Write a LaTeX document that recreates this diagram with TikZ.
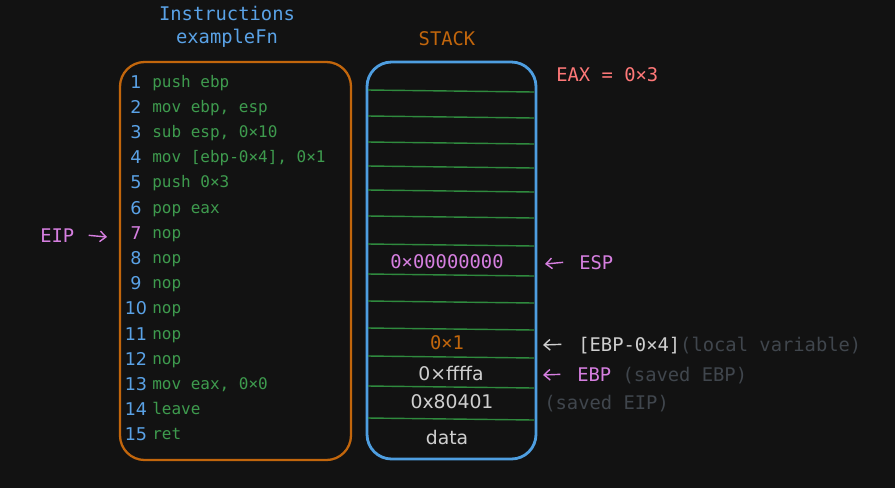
\documentclass[tikz,border=0pt]{standalone}
\usepackage{fontspec}
\setmainfont{DejaVu Sans}
\setsansfont{DejaVu Sans}
\setmonofont{DejaVu Sans Mono}
\usetikzlibrary{arrows.meta}
\definecolor{bgcol}{HTML}{121212}
\definecolor{codebox}{HTML}{C2660C}
\definecolor{stackbox}{HTML}{4E9EE0}
\definecolor{codegreen}{HTML}{3E9B4E}
\definecolor{linegreen}{HTML}{2F8A3E}
\definecolor{numblue}{HTML}{5AA2E6}
\definecolor{ptrpink}{HTML}{D67FE0}
\definecolor{eaxred}{HTML}{FF7878}
\definecolor{valgray}{HTML}{CFCFCF}
\definecolor{dimgray}{HTML}{40464D}
\tikzset{
  bigtxt/.style={font=\ttfamily\fontsize{10.7}{13}\selectfont, inner sep=0pt},
  codetxt/.style={font=\ttfamily\fontsize{9.1}{11}\selectfont, inner sep=0pt, text=codegreen, anchor=base west},
  numtxt/.style={font=\sffamily\fontsize{10}{12}\selectfont, inner sep=0pt, anchor=base},
  handtxt/.style={font=\sffamily\fontsize{10.7}{12}\selectfont, inner sep=0pt, text=valgray, anchor=base},
  ptr/.style={-{Straight Barb[length=3.4pt,width=6pt]}, line width=0.8pt},
  stackline/.style={linegreen, line width=0.8pt}
}
\begin{document}
\begin{tikzpicture}[x=0.02cm, y=-0.02cm]
\fill[bgcol] (0,0) rectangle (895,488);
% titles
\node[bigtxt, text=numblue, align=center] (title) at (227,27) {Instructions\\exampleFn};
\node[bigtxt, text=codebox, anchor=base] (stacktitle) at (447,45) {STACK};
% boxes
\draw[codebox, line width=1.3pt, rounded corners=14pt] (120,62) rectangle (351,460);
\draw[stackbox, line width=1.6pt, rounded corners=14pt] (367,62) rectangle (536,459);
% instructions
\foreach \i/\c/\txt in {1/numblue/push ebp, 2/numblue/{mov ebp, esp}, 3/numblue/{sub esp, 0×10},
  4/numblue/{mov [ebp-0×4], 0×1}, 5/numblue/push 0×3, 6/numblue/pop eax, 7/ptrpink/nop,
  8/numblue/nop, 9/numblue/nop, 10/numblue/nop, 11/numblue/nop, 12/numblue/nop,
  13/numblue/{mov eax, 0×0}, 14/numblue/leave, 15/numblue/ret}
{
  \node[numtxt, text=\c] (num\i) at (136,{88+(\i-1)*25.2}) {\i};
  \node[codetxt] (ins\i) at (152,{87+(\i-1)*25.2}) {\txt};
}
% stack slots
\foreach \ya/\yb in {90/92, 116/118, 142/144, 166/168, 190/192, 216/218, 244/246,
  274/276, 301/303, 328/330, 356/358, 386/388, 418/420}
  \draw[stackline] (368,\ya) -- (534,\yb);
\node[bigtxt, text=ptrpink, anchor=base] (espval) at (447,268) {0×00000000};
\node[bigtxt, text=codebox, anchor=base] (localval) at (447,349) {0×1};
\node[handtxt] (ebpval) at (451,380) {0×ffffa};
\node[handtxt] (eipval) at (452,408) {0x80401};
\node[handtxt] (dataval) at (447,444) {data};
% registers
\node[bigtxt, text=eaxred, anchor=base west] (eax) at (556,81) {EAX = 0×3};
\node[bigtxt, text=ptrpink, anchor=base west] (eip) at (40,242) {EIP};
\coordinate (eiptip) at (107,237);
\draw[ptr, ptrpink] ([xshift=8pt,yshift=3.8pt]eip.base east) -- (eiptip);
\node[bigtxt, text=ptrpink, anchor=base west] (esp) at (579,269) {ESP};
\coordinate (esptip) at (545,264);
\draw[ptr, ptrpink] ([xshift=-9pt,yshift=3.8pt]esp.base west) -- (esptip);
\node[bigtxt, text=valgray, anchor=base west] (local) at (578,351) {[EBP-0×4]\textcolor{dimgray}{(local variable)}};
\coordinate (localtip) at (543,345);
\draw[ptr, valgray] ([xshift=-9.5pt,yshift=3.8pt]local.base west) -- (localtip);
\node[bigtxt, text=ptrpink, anchor=base west] (ebp) at (577,381) {EBP \textcolor{dimgray}{(saved EBP)}};
\coordinate (ebptip) at (543,375);
\draw[ptr, ptrpink] ([xshift=-9.5pt,yshift=3.8pt]ebp.base west) -- (ebptip);
\node[bigtxt, text=dimgray, anchor=base west] (savedeip) at (544,409) {(saved EIP)};
\end{tikzpicture}
\end{document}
